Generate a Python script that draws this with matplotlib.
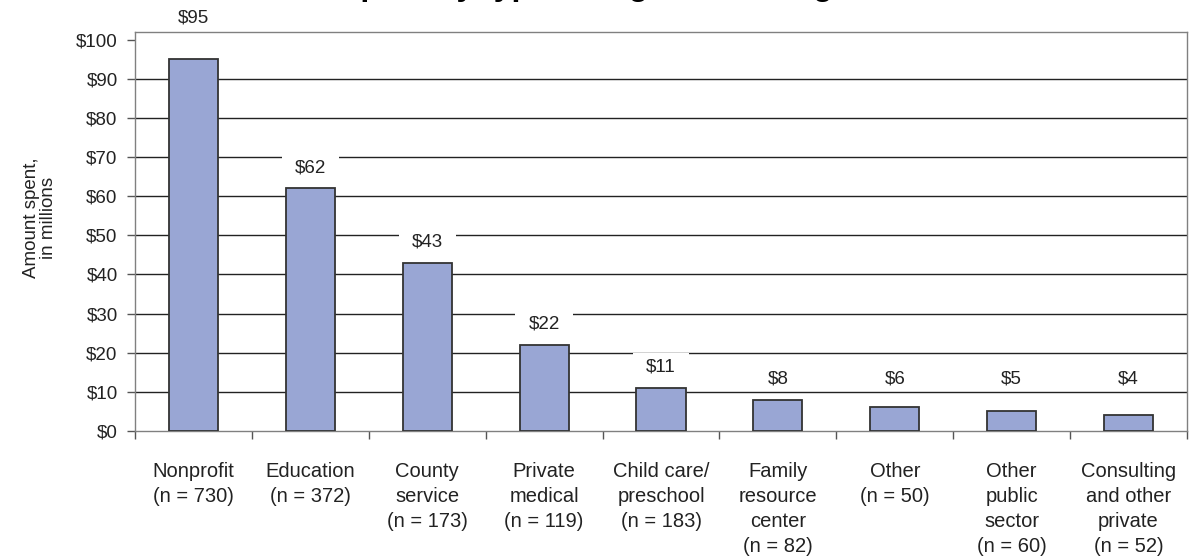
import matplotlib
matplotlib.use("Agg")
import matplotlib.pyplot as plt
import numpy as np
from matplotlib.path import Path

plt.rcParams['font.family'] = ['Liberation Sans', 'DejaVu Sans']

# Spending by organization type (millions of dollars)
categories = ['Nonprofit\n(n = 730)', 'Education\n(n = 372)', 'County\nservice\n(n = 173)',
              'Private\nmedical\n(n = 119)', 'Child care/\npreschool\n(n = 183)',
              'Family\nresource\ncenter\n(n = 82)', 'Other\n(n = 50)',
              'Other\npublic\nsector\n(n = 60)', 'Consulting\nand other\nprivate\n(n = 52)']
amounts = [95, 62, 43, 22, 11, 8, 6, 5, 4]
yticks = list(range(0, 101, 10))
title = 'Amount spent by type of organization agreement'


def label_box(x0, y0, width, height, mutation_size):
    # white backing box: wide on the sides, a little extra on top, none below
    padx = 0.7 * mutation_size
    pad_top = 0.32 * mutation_size
    left, right = x0 - padx, x0 + width + padx
    bottom, top = y0, y0 + height + pad_top
    verts = [(left, bottom), (right, bottom), (right, top), (left, top), (left, bottom)]
    codes = [Path.MOVETO, Path.LINETO, Path.LINETO, Path.LINETO, Path.CLOSEPOLY]
    return Path(verts, codes)


fig = plt.figure(figsize=(11.92, 5.6), dpi=100)
ax = fig.add_axes([0.1133, 0.2304, 0.8825, 0.713])

x = np.arange(len(categories))
ax.bar(x, amounts, width=0.42, color='#99A6D4', edgecolor='#333333', linewidth=1.3, zorder=3)

ax.set_xlim(-0.5, len(categories) - 0.5)
ax.set_ylim(0, 102)

# horizontal guide lines behind the bars
for v in yticks[1:-1]:
    ax.axhline(v, color='#222222', linewidth=1.0, zorder=1)

# value labels above bars, with a white box that breaks the guide lines
ymax = ax.get_ylim()[1]
for xi, v in zip(x, amounts):
    ly = max(v + 5.3, 13.3)
    if ly > ymax - 3:
        ly = v + 10.6
    ax.text(xi, ly, f'${v}', ha='center', va='center', fontsize=13.5, color='#222222',
            zorder=4, clip_on=False,
            bbox=dict(boxstyle=label_box, facecolor='white', edgecolor='none'))

ax.set_yticks(yticks)
ax.set_yticklabels([f'${v}' for v in yticks], fontsize=13.5, color='#222222')
ax.tick_params(axis='y', direction='out', length=6, width=1, color='#555555', pad=6.5)

# ticks at category boundaries, labels centred under each bar
ax.set_xticks(np.arange(len(categories) + 1) - 0.5)
ax.set_xticklabels([])
ax.set_xticks(x, minor=True)
ax.set_xticklabels(categories, minor=True, fontsize=14.5, color='#222222', va='top',
                   ha='center', multialignment='center', linespacing=1.4)
ax.tick_params(axis='x', which='major', direction='out', length=6, width=1, color='#555555')
ax.tick_params(axis='x', which='minor', length=0, pad=22)

for side in ['left', 'bottom', 'top', 'right']:
    ax.spines[side].set_color('#808080')
    ax.spines[side].set_linewidth(1.0)

ax.set_ylabel('Amount spent,\nin millions', fontsize=13.5, color='#222222', linespacing=1.05)
ax.yaxis.set_label_coords(-0.074, 0.534)

fig.text(0.179, 1.0085, title, ha='left', va='baseline', fontsize=23,
         fontweight='bold', color='black')

fig.savefig('out.png', dpi=100)
